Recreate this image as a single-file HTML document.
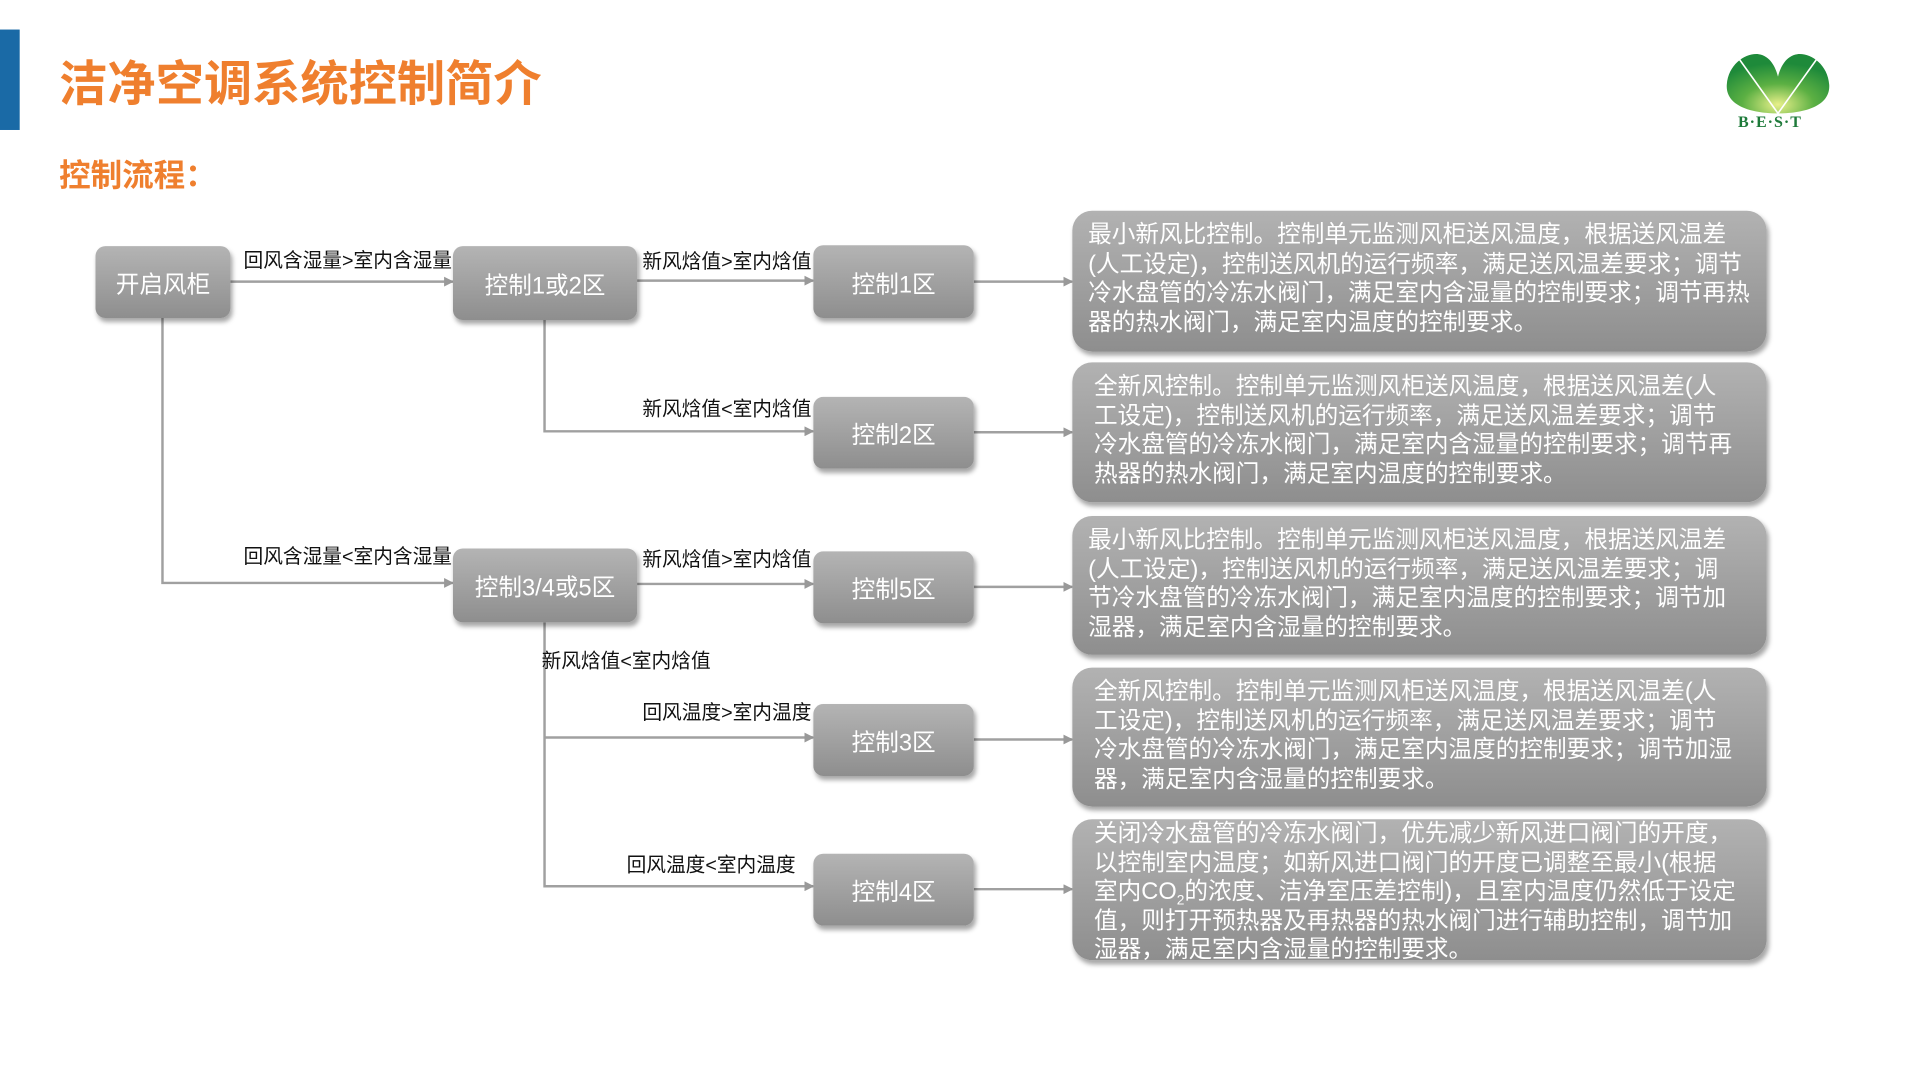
<!DOCTYPE html>
<html><head><meta charset="utf-8"><style>
body{margin:0;width:1920px;height:1080px;background:#fff;position:relative;overflow:hidden;font-family:"Liberation Sans","Noto Sans CJK SC",sans-serif}
#w{position:absolute;left:0;top:0;width:1920px;height:1080px;transform:scale(0.9847);transform-origin:0 0}
.a{position:absolute}
.node{position:absolute;border-radius:10px;background:linear-gradient(#b4b4b4,#8e8e8e);box-shadow:2px 4px 5px rgba(0,0,0,.35);color:#fff;font-size:24px;display:flex;align-items:center;justify-content:center;white-space:nowrap}
.box{position:absolute;left:1089px;width:705px;border-radius:20px;background:linear-gradient(#b2b2b2,#8e8e8e);box-shadow:2px 4px 5px rgba(0,0,0,.35);color:#fff;font-size:24px;line-height:29.5px;white-space:nowrap;box-sizing:border-box;padding:10px 0 0 16px}
.lb{position:absolute;font-size:20px;color:#111;white-space:nowrap;line-height:22px}
.r{text-align:right}
</style></head><body>
<svg class="a" style="left:1718px;top:51px" width="120" height="64" viewBox="0 0 140 80">
<defs><radialGradient id="g" cx="0.5" cy="0.85" r="0.7"><stop offset="0" stop-color="#e8f08a"/><stop offset="0.5" stop-color="#5cb043"/><stop offset="1" stop-color="#1e8a3a"/></radialGradient></defs>
<path d="M70 78 C40 78 4 70 6 42 C8 16 30 2 46 4 C60 6 67 20 70 32 C73 20 80 6 94 4 C110 2 132 16 134 42 C136 70 100 78 70 78Z" fill="url(#g)"/>
<path d="M20 8 L70 78 L120 8" stroke="#fff" stroke-width="2" fill="none"/>
</svg>
<div class="a" style="left:1738px;top:114px;font-family:'Liberation Serif',serif;font-size:16px;font-weight:bold;color:#1e7a3a;letter-spacing:1px;line-height:18px">B·E·S·T</div>
<div id="w">
<div class="a" style="left:0;top:30px;width:20px;height:102px;background:#1a6aa6"></div>
<div class="a" style="left:60px;top:58px;font-size:49px;font-weight:bold;color:#ef7f2e;line-height:56px">洁净空调系统控制简介</div>
<div class="a" style="left:60px;top:158px;font-size:32px;font-weight:bold;color:#ef7f2e;line-height:40px">控制流程：</div>

<svg class="a" style="left:0;top:0" width="1920" height="1080">
<defs><marker id="ar" markerWidth="10" markerHeight="10" refX="9" refY="5" orient="auto" markerUnits="userSpaceOnUse"><path d="M0 0 L10 5 L0 10Z" fill="#999"/></marker></defs>
<g stroke="#a0a0a0" stroke-width="2.5" fill="none">
<line x1="234" y1="286" x2="460" y2="286" marker-end="url(#ar)"/>
<polyline points="165,323 165,592 460,592" marker-end="url(#ar)"/>
<line x1="647" y1="285" x2="826" y2="285" marker-end="url(#ar)"/>
<polyline points="553,325 553,438 826,438" marker-end="url(#ar)"/>
<line x1="647" y1="593" x2="826" y2="593" marker-end="url(#ar)"/>
<polyline points="553,632 553,900 826,900" marker-end="url(#ar)"/>
<line x1="553" y1="749" x2="826" y2="749" marker-end="url(#ar)"/>
<line x1="989" y1="286" x2="1089" y2="286" marker-end="url(#ar)"/>
<line x1="989" y1="439" x2="1089" y2="439" marker-end="url(#ar)"/>
<line x1="989" y1="596" x2="1089" y2="596" marker-end="url(#ar)"/>
<line x1="989" y1="751" x2="1089" y2="751" marker-end="url(#ar)"/>
<line x1="989" y1="903" x2="1089" y2="903" marker-end="url(#ar)"/>
</g></svg>

<div class="lb r" style="right:1461px;top:254px">回风含湿量&gt;室内含湿量</div>
<div class="lb r" style="right:1461px;top:555px">回风含湿量&lt;室内含湿量</div>
<div class="lb r" style="right:1096px;top:255px">新风焓值&gt;室内焓值</div>
<div class="lb r" style="right:1096px;top:405px">新风焓值&lt;室内焓值</div>
<div class="lb r" style="right:1096px;top:558px">新风焓值&gt;室内焓值</div>
<div class="lb" style="left:550px;top:661px">新风焓值&lt;室内焓值</div>
<div class="lb r" style="right:1096px;top:713px">回风温度&gt;室内温度</div>
<div class="lb r" style="right:1112px;top:868px">回风温度&lt;室内温度</div>

<div class="node" style="left:97px;top:250px;width:137px;height:73px">开启风柜</div>
<div class="node" style="left:460px;top:250px;width:187px;height:75px">控制1或2区</div>
<div class="node" style="left:826px;top:249px;width:163px;height:74px">控制1区</div>
<div class="node" style="left:826px;top:403px;width:163px;height:73px">控制2区</div>
<div class="node" style="left:460px;top:557px;width:187px;height:75px">控制3/4或5区</div>
<div class="node" style="left:826px;top:560px;width:163px;height:73px">控制5区</div>
<div class="node" style="left:826px;top:715px;width:163px;height:73px">控制3区</div>
<div class="node" style="left:826px;top:867px;width:163px;height:73px">控制4区</div>

<div class="box" style="top:214px;height:143px">最小新风比控制。控制单元监测风柜送风温度，根据送风温差<br>(人工设定)，控制送风机的运行频率，满足送风温差要求；调节<br>冷水盘管的冷冻水阀门，满足室内含湿量的控制要求；调节再热<br>器的热水阀门，满足室内温度的控制要求。</div>
<div class="box" style="top:368px;height:142px;padding-left:22px">全新风控制。控制单元监测风柜送风温度，根据送风温差(人<br>工设定)，控制送风机的运行频率，满足送风温差要求；调节<br>冷水盘管的冷冻水阀门，满足室内含湿量的控制要求；调节再<br>热器的热水阀门，满足室内温度的控制要求。</div>
<div class="box" style="top:524px;height:141px">最小新风比控制。控制单元监测风柜送风温度，根据送风温差<br>(人工设定)，控制送风机的运行频率，满足送风温差要求；调<br>节冷水盘管的冷冻水阀门，满足室内温度的控制要求；调节加<br>湿器，满足室内含湿量的控制要求。</div>
<div class="box" style="top:678px;height:141px;padding-left:22px">全新风控制。控制单元监测风柜送风温度，根据送风温差(人<br>工设定)，控制送风机的运行频率，满足送风温差要求；调节<br>冷水盘管的冷冻水阀门，满足室内温度的控制要求；调节加湿<br>器，满足室内含湿量的控制要求。</div>
<div class="box" style="top:832px;height:143px;padding:0 0 0 22px">关闭冷水盘管的冷冻水阀门，优先减少新风进口阀门的开度，<br>以控制室内温度；如新风进口阀门的开度已调整至最小(根据<br>室内CO<sub style="font-size:14px;line-height:0">2</sub>的浓度、洁净室压差控制)，且室内温度仍然低于设定<br>值，则打开预热器及再热器的热水阀门进行辅助控制，调节加<br>湿器，满足室内含湿量的控制要求。</div>
</div>
</body></html>
